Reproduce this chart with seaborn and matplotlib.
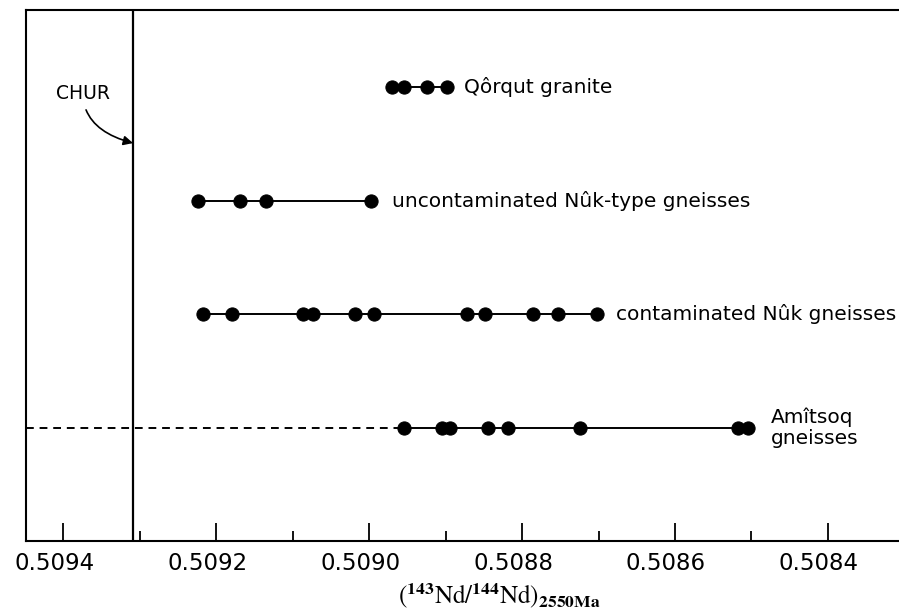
import matplotlib
matplotlib.use("Agg")
import matplotlib.pyplot as plt
import matplotlib.transforms as mtransforms
from matplotlib.ticker import FixedLocator
import seaborn as sns
import pandas as pd

# ---- data ----
groups = ["Qôrqut granite", "uncontaminated Nûk-type gneisses",
          "contaminated Nûk gneisses", "Amîtsoq\ngneisses"]
rows = [4, 3, 2, 1]
qorqut = [0.508970, 0.508954, 0.508924, 0.508898]
uncontaminated = [0.509224, 0.509169, 0.509135, 0.508998]
contaminated = [0.509218, 0.509179, 0.509087, 0.509074, 0.509018, 0.508994,
                0.508872, 0.508849, 0.508786, 0.508753, 0.508702]
amitsoq = [0.508954, 0.508905, 0.508894, 0.508844, 0.508819, 0.508724,
           0.508518, 0.508504]
series = [qorqut, uncontaminated, contaminated, amitsoq]
label_offsets = [12, 15, 14, 16]
chur = 0.509309
xlim = (0.509449, 0.508307)
major_ticks = [0.5094, 0.5092, 0.5090, 0.5088, 0.5086, 0.5084]
major_labels = ["0.5094", "0.5092", "0.5090", "0.5088", "0.5086", "0.5084"]
minor_ticks = [0.5093, 0.5091, 0.5089, 0.5087, 0.5085]

recs = []
for g, r, vals in zip(groups, rows, series):
    for v in vals:
        recs.append({"group": g, "row": r, "ratio": v})
df = pd.DataFrame(recs)

sns.set_style("white")
plt.rcParams["font.family"] = ["DejaVu Sans"]
plt.rcParams["mathtext.fontset"] = "stix"
plt.rcParams["text.color"] = "black"
plt.rcParams["axes.labelcolor"] = "black"
plt.rcParams["xtick.color"] = "black"

fig = plt.figure(figsize=(8.99, 6.11), dpi=100)
ax = fig.add_axes([26 / 899, 70 / 611, 1 - 26 / 899, (541 - 10) / 611])

for g in groups:
    sub = df[df["group"] == g]
    sns.lineplot(data=sub, x="ratio", y="row", estimator=None, sort=True,
                 color="black", lw=1.4, marker="o", markersize=9.5,
                 markeredgecolor="black", markerfacecolor="black", ax=ax,
                 legend=False)

# dashed extension for Amitsoq towards CHUR
ax.hlines(rows[3], xlim[0], max(amitsoq), colors="black", linestyles=(0, (4, 3)),
          lw=1.4)

# labels
for g, r, vals, off in zip(groups, rows, series, label_offsets):
    ax.annotate(g, xy=(min(vals), r), xytext=(off, 0), textcoords="offset points",
                ha="left", va="center", fontsize=14.5, linespacing=1.1,
                color="black")

# CHUR line
ax.axvline(chur, color="black", lw=1.6)
ax.annotate("CHUR", xy=(chur, 3.507), xytext=(0.5093745, 3.947),
            ha="center", va="center", fontsize=13.5, color="black",
            arrowprops=dict(arrowstyle="-|>", color="black", lw=1.2,
                            shrinkA=3, shrinkB=0,
                            connectionstyle="angle3,angleA=90,angleB=-15",
                            mutation_scale=14))

ax.set_xlim(*xlim)
ax.set_ylim(0, 4.68)
ax.set_yticks([])
ax.xaxis.set_major_locator(FixedLocator(major_ticks))
ax.set_xticklabels(major_labels)
ax.xaxis.set_minor_locator(FixedLocator(minor_ticks))
ax.tick_params(axis="x", which="major", direction="in", length=13, width=1.3,
               labelsize=16.5, pad=8, bottom=True, colors="black")
ax.tick_params(axis="x", which="minor", direction="in", length=7, width=1.3,
               bottom=True)
shift = mtransforms.ScaledTranslation(-9 / 100, 0, fig.dpi_scale_trans)
for lbl in ax.get_xticklabels():
    lbl.set_transform(lbl.get_transform() + shift)

ax.set_xlabel(r"$(^{\mathbf{143}}\mathrm{Nd}/^{\mathbf{144}}\mathrm{Nd})_{\mathbf{2550Ma}}$",
              fontsize=18)
ax.xaxis.label.set_va("center")
ax.xaxis.set_label_coords((499 - 26) / 873, (611 - 596 - 70) / 531)
ax.set_ylabel("")
for s in ["left", "top", "bottom"]:
    ax.spines[s].set_visible(True)
    ax.spines[s].set_color("black")
    ax.spines[s].set_linewidth(1.5)
ax.spines["right"].set_visible(False)

fig.savefig("out.png", dpi=100)
